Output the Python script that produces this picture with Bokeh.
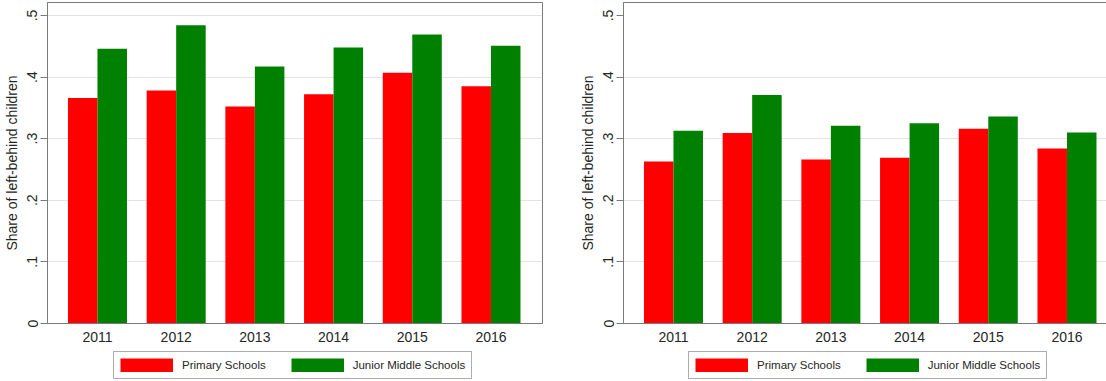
from bokeh.plotting import figure
from bokeh.layouts import row, column
from bokeh.models import (ColumnDataSource, FixedTicker, Legend, LegendItem,
                          Range1d)
from bokeh.embed import file_html
from bokeh.resources import INLINE

# Share of left-behind children by school level and year
years = ["2011", "2012", "2013", "2014", "2015", "2016"]
primary_left = [0.366, 0.378, 0.352, 0.372, 0.407, 0.385]
junior_left = [0.446, 0.484, 0.417, 0.448, 0.469, 0.451]
primary_right = [0.263, 0.309, 0.266, 0.269, 0.316, 0.284]
junior_right = [0.313, 0.371, 0.321, 0.325, 0.336, 0.310]

y_ticks = [0, 0.1, 0.2, 0.3, 0.4, 0.5]
y_tick_labels = ["0", ".1", ".2", ".3", ".4", ".5"]
series_names = ["Primary Schools", "Junior Middle Schools"]

RED = "#ff0000"
GREEN = "#008000"
FONT = "Liberation Sans"
AXIS_GRAY = "#7a7a7a"
TEXT = "#262626"

BAR_W = 0.375
X_START = -0.635
PX_PER_UNIT = 78.7


def make_panel(primary, junior, frame_w, left_border, right_border, grid_ticks):
    idx = list(range(len(years)))
    src = ColumnDataSource(dict(
        xp=[i - BAR_W / 2 for i in idx],
        xj=[i + BAR_W / 2 for i in idx],
        primary=primary,
        junior=junior,
    ))
    p = figure(
        frame_width=frame_w, frame_height=321,
        x_range=Range1d(X_START, X_START + frame_w / PX_PER_UNIT),
        y_range=Range1d(0, 0.521),
        output_backend="svg", toolbar_location=None,
        min_border_left=left_border, min_border_right=right_border,
        min_border_top=2, min_border_bottom=26,
    )
    p.background_fill_color = "white"
    p.border_fill_color = "white"
    p.outline_line_color = AXIS_GRAY
    p.outline_line_width = 1

    p.vbar(x="xp", top="primary", width=BAR_W, bottom=0, source=src,
           fill_color=RED, line_color=None)
    p.vbar(x="xj", top="junior", width=BAR_W, bottom=0, source=src,
           fill_color=GREEN, line_color=None)

    # y axis
    ya = p.yaxis[0]
    ya.ticker = FixedTicker(ticks=y_ticks)
    ya.major_label_overrides = {t: l for t, l in zip(y_ticks, y_tick_labels)}
    ya.major_label_orientation = "vertical"
    ya.major_label_text_font = FONT
    ya.major_label_text_font_size = "14px"
    ya.major_label_text_color = TEXT
    ya.major_tick_out = 7
    ya.major_tick_in = 0
    ya.minor_tick_line_color = None
    ya.major_label_standoff = 3
    ya.axis_line_color = AXIS_GRAY
    ya.major_tick_line_color = AXIS_GRAY
    ya.axis_label = "Share of left-behind children"
    ya.axis_label_text_font = FONT
    ya.axis_label_text_font_style = "normal"
    ya.axis_label_text_font_size = "14px"
    ya.axis_label_text_color = TEXT
    ya.axis_label_standoff = 5

    # x axis: year labels under each pair of bars
    xa = p.xaxis[0]
    xa.ticker = FixedTicker(ticks=idx)
    xa.major_label_overrides = {i: y for i, y in zip(idx, years)}
    xa.major_label_text_font = FONT
    xa.major_label_text_font_size = "14px"
    xa.major_label_text_color = TEXT
    xa.major_tick_line_color = None
    xa.minor_tick_line_color = None
    xa.major_tick_out = 0
    xa.major_tick_in = 0
    xa.major_label_standoff = 8
    xa.axis_line_color = AXIS_GRAY

    p.xgrid.grid_line_color = None
    p.ygrid.ticker = FixedTicker(ticks=grid_ticks)
    p.ygrid.grid_line_color = "#e3e3e3"
    p.ygrid.grid_line_width = 1
    return p


def make_legend(total_w, box_left):
    """Strip holding the boxed key for the two school levels."""
    lg = figure(
        width=total_w, height=32,
        x_range=Range1d(0, 1), y_range=Range1d(0, 1),
        output_backend="svg", toolbar_location=None,
        min_border_left=box_left, min_border_right=0,
        min_border_top=2, min_border_bottom=0,
    )
    lg.axis.visible = False
    lg.grid.visible = False
    lg.outline_line_color = None
    lg.background_fill_color = "white"
    lg.border_fill_color = "white"
    # key-only renderers: thick butt-capped strokes fill the whole swatch box
    blank = ColumnDataSource(dict(x=[float("nan")], y=[float("nan")]))
    k1 = lg.line(x="x", y="y", source=blank, line_color=RED,
                 line_width=14, line_cap="butt")
    k2 = lg.line(x="x", y="y", source=blank, line_color=GREEN,
                 line_width=14, line_cap="butt")
    legend = Legend(
        items=[LegendItem(label=series_names[0], renderers=[k1]),
               LegendItem(label=series_names[1], renderers=[k2])],
        orientation="horizontal",
        location="top_left",
        glyph_width=53, glyph_height=14,
        label_height=14, label_standoff=9,
        spacing=25, padding=6, margin=0,
        label_text_font=FONT, label_text_font_size="11.5px",
        label_text_color=TEXT,
        border_line_color="#5a5a5a", border_line_width=1,
        background_fill_color="white", background_fill_alpha=1,
    )
    lg.add_layout(legend, "center")
    return lg


left = make_panel(primary_left, junior_left, 495, 44, 21,
                  [0.1, 0.2, 0.3, 0.4, 0.5])
right = make_panel(primary_right, junior_right, 486, 60, 0,
                   [0.1, 0.2, 0.3, 0.4])
left_key = make_legend(560, 113)
right_key = make_legend(546, 128)

layout = column(row(left, right, spacing=0),
                row(left_key, right_key, spacing=0), spacing=0)

with open("out.html", "w") as f:
    f.write(file_html(layout, INLINE))
